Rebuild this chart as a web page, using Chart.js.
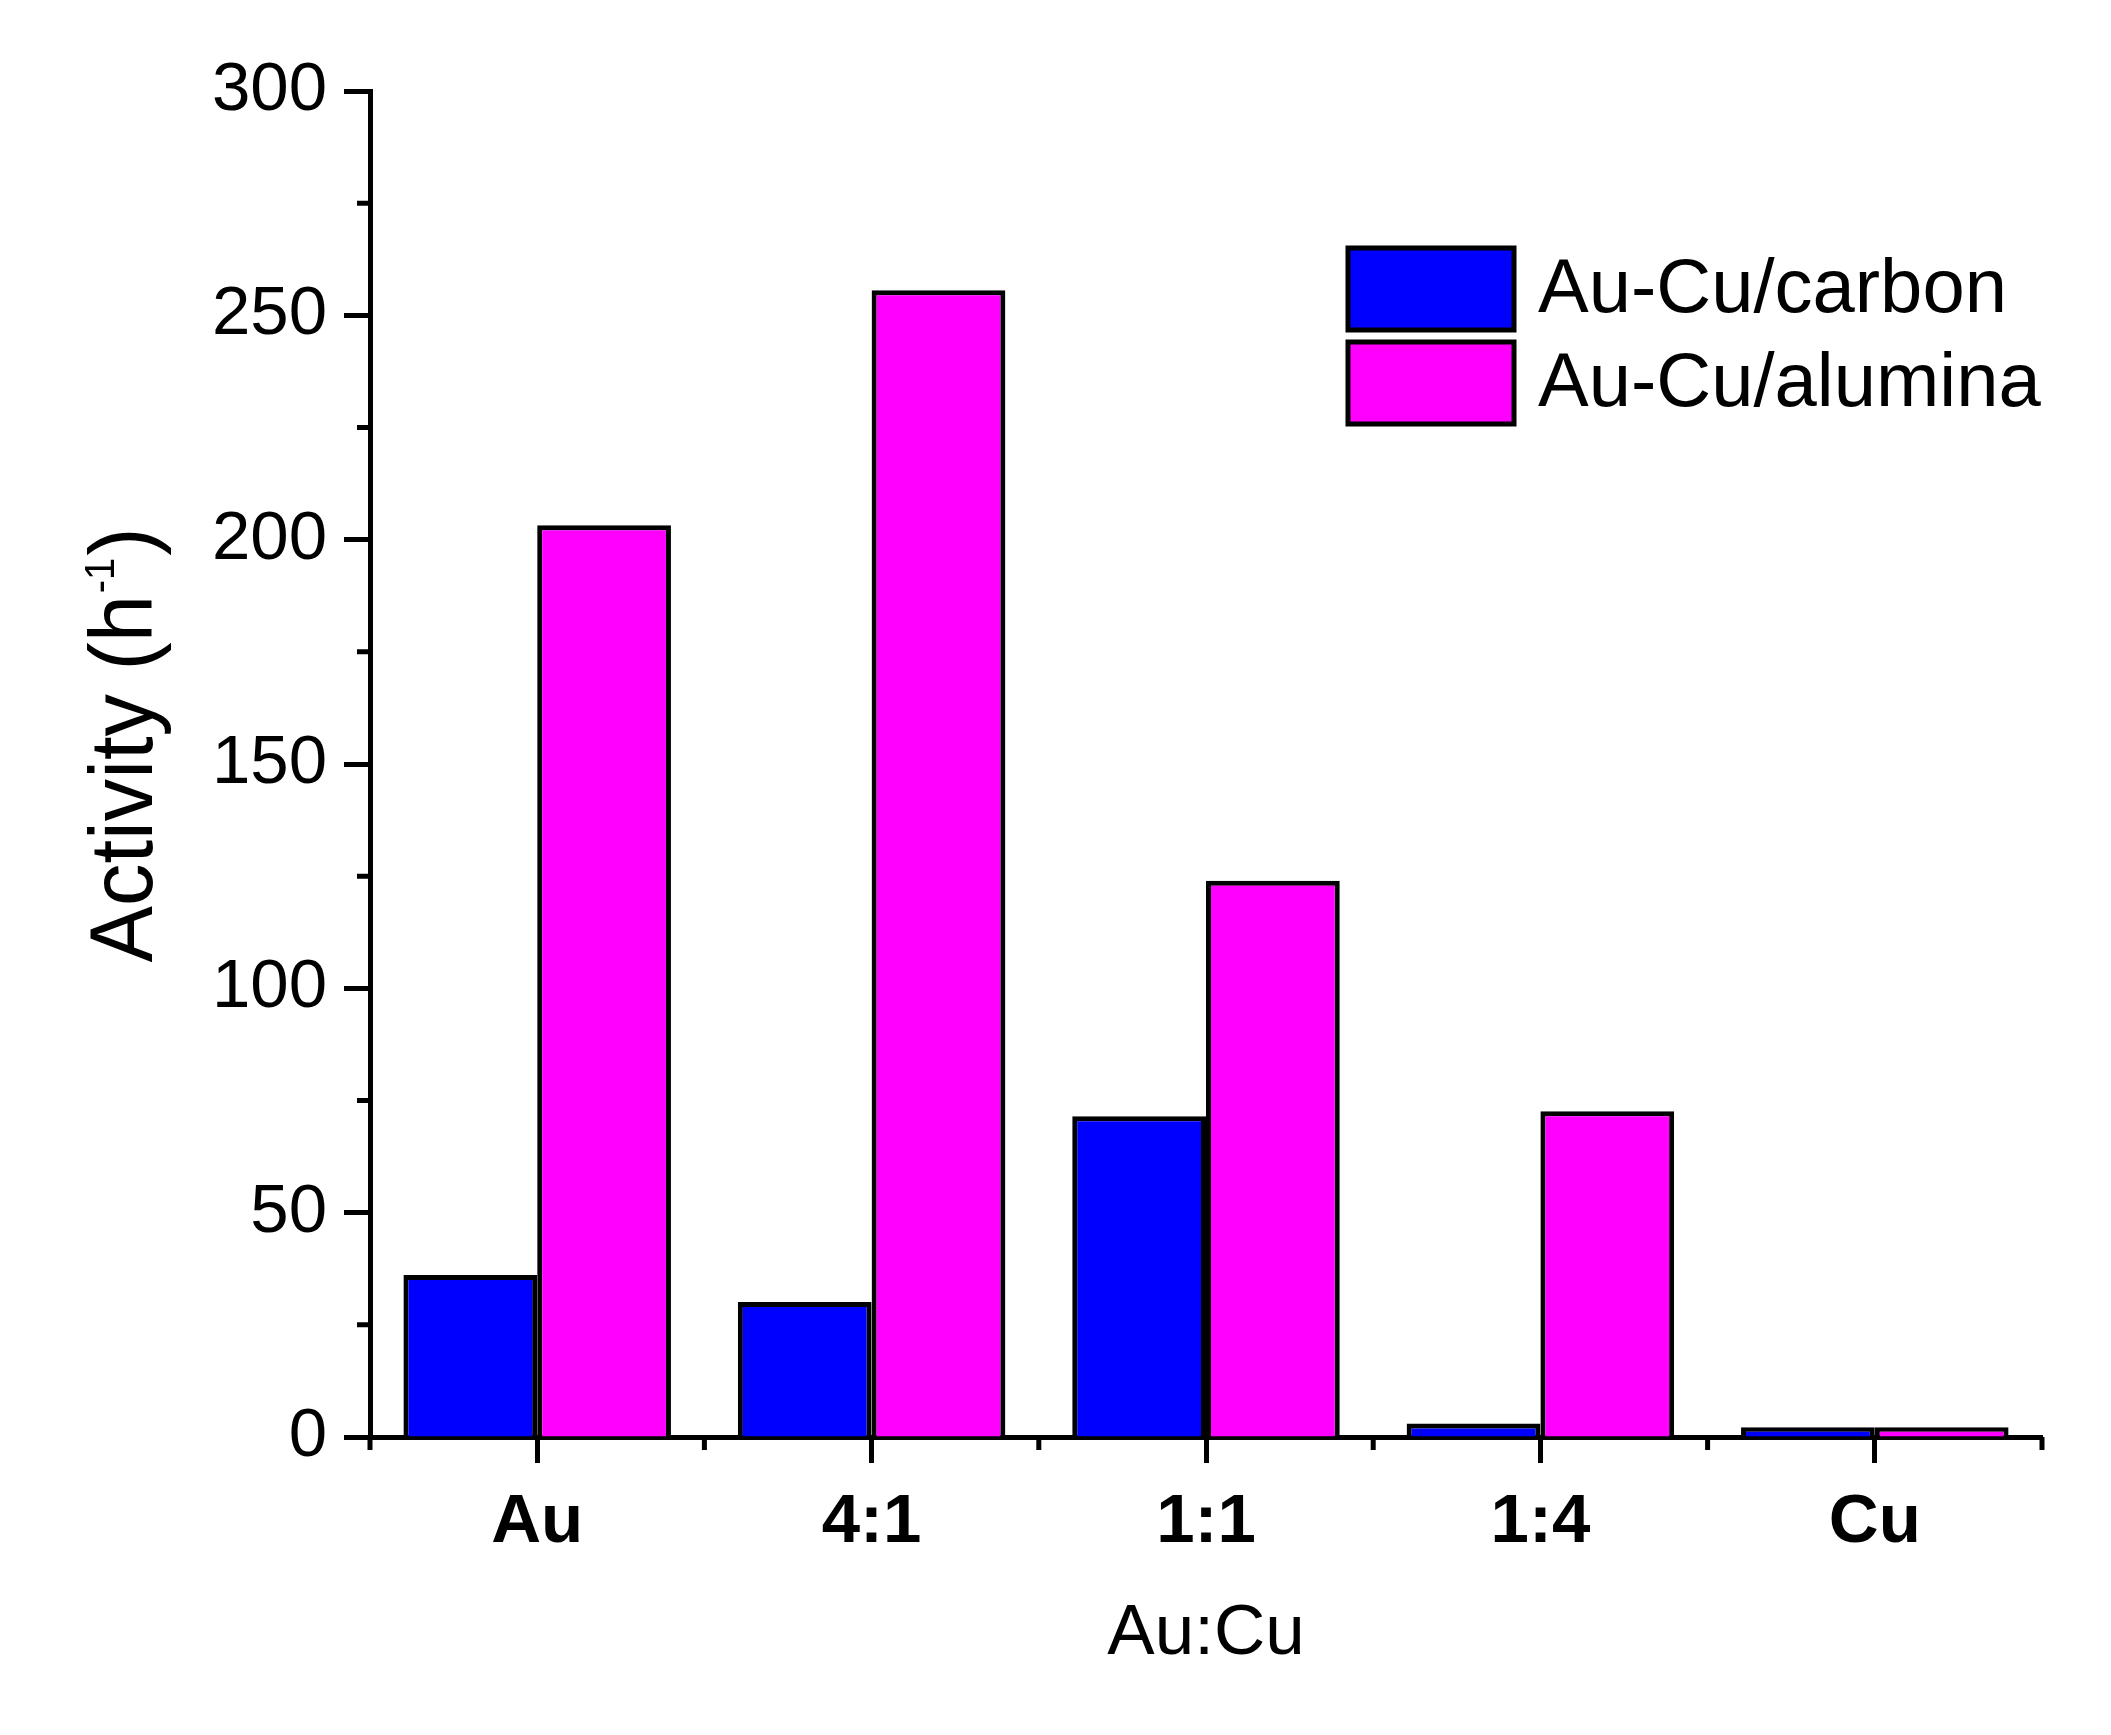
<!DOCTYPE html>
<html>
<head>
<meta charset="utf-8">
<script src="https://cdn.jsdelivr.net/npm/chart.js@4.4.1/dist/chart.umd.min.js"></script>
<style>
  html, body { margin: 0; padding: 0; background: #fff; }
  #wrap { width: 2111px; height: 1735px; }
</style>
</head>
<body>
<div id="wrap"><canvas id="chart" width="2111" height="1735"></canvas></div>
<script>
// values
const ratios = ['Au', '4:1', '1:1', '1:4', 'Cu'];
const carbon = [36.1, 30.1, 71.5, 3.0, 2.2];
const alumina = [203.2, 255.6, 124.0, 72.6, 2.2];
const seriesNames = ['Au-Cu/carbon', 'Au-Cu/alumina'];
const seriesColors = ['#0000ff', '#ff00ff'];
const yMinorTicks = [25, 75, 125, 175, 225, 275];
const yTitle = ['Activity (h', '-1', ')'];

const FONT = "'Liberation Sans', Arial, sans-serif";

// minor ticks, the y title with its superscript, and the legend box
const extras = {
    id: 'extras',
    afterDraw(chart) {
        const ctx = chart.ctx;
        const x = chart.scales.x, y = chart.scales.y;
        const area = chart.chartArea;
        ctx.save();
        ctx.strokeStyle = '#000';
        ctx.lineWidth = 5;
        ctx.beginPath();
        yMinorTicks.forEach(v => {
            const py = y.getPixelForValue(v);
            ctx.moveTo(area.left - 13, py);
            ctx.lineTo(area.left, py);
        });
        const half = (x.getPixelForValue(1) - x.getPixelForValue(0)) / 2;
        for (let i = 0; i <= ratios.length; i++) {
            const px = x.getPixelForValue(i) - half;
            ctx.moveTo(px, area.bottom);
            ctx.lineTo(px, area.bottom + 13);
        }
        ctx.stroke();

        // y axis title, slightly condensed like the original
        const big = '89px ' + FONT, small = '42px ' + FONT;
        ctx.font = big;
        const w0 = ctx.measureText(yTitle[0]).width;
        const w2 = ctx.measureText(yTitle[2]).width;
        ctx.font = small;
        const w1 = ctx.measureText(yTitle[1]).width;
        const total = w0 + w1 + w2 + 4;
        const sx = 435 / total;
        ctx.save();
        ctx.translate(152, 745);
        ctx.rotate(-Math.PI / 2);
        ctx.scale(sx, 1);
        ctx.fillStyle = '#000';
        ctx.textBaseline = 'alphabetic';
        ctx.textAlign = 'left';
        let cx = -total / 2;
        ctx.font = big;
        ctx.fillText(yTitle[0], cx, 0);
        cx += w0 + 2;
        ctx.font = small;
        ctx.fillText(yTitle[1], cx, -38);
        cx += w1 + 2;
        ctx.font = big;
        ctx.fillText(yTitle[2], cx, 0);
        ctx.restore();

        // legend
        const boxX = 1348, boxW = 166, boxH = 82;
        const tops = [248, 342];
        ctx.font = '76px ' + FONT;
        ctx.textBaseline = 'middle';
        chart.data.datasets.forEach((ds, i) => {
            ctx.fillStyle = ds.backgroundColor;
            ctx.fillRect(boxX, tops[i], boxW, boxH);
            ctx.strokeRect(boxX, tops[i], boxW, boxH);
            ctx.fillStyle = '#000';
            ctx.fillText(ds.label, 1538, tops[i] + boxH / 2 + 2);
        });
        ctx.restore();
    }
};

new Chart(document.getElementById('chart'), {
    type: 'bar',
    data: {
        labels: ratios,
        datasets: [
            { label: seriesNames[0], data: carbon, backgroundColor: seriesColors[0] },
            { label: seriesNames[1], data: alumina, backgroundColor: seriesColors[1] }
        ]
    },
    options: {
        responsive: false,
        devicePixelRatio: 1,
        animation: false,
        layout: { padding: { top: 91, right: 69, left: 0, bottom: 0 } },
        datasets: {
            bar: {
                categoryPercentage: 0.8,
                barPercentage: 1.0,
                borderColor: '#000',
                borderWidth: 5,
                borderSkipped: 'bottom'
            }
        },
        plugins: {
            legend: { display: false },
            tooltip: { enabled: false }
        },
        scales: {
            x: {
                offset: true,
                afterFit: s => { s.height = 298; },
                grid: {
                    offset: false,
                    drawOnChartArea: false,
                    drawTicks: true,
                    tickLength: 26,
                    tickWidth: 5,
                    tickColor: '#000'
                },
                border: { display: true, color: '#000', width: 5 },
                ticks: {
                    color: '#000',
                    padding: 19,
                    maxRotation: 0,
                    font: { family: FONT, size: 69, weight: 'bold' }
                },
                title: {
                    display: true,
                    text: 'Au:Cu',
                    color: '#000',
                    padding: { top: 0, bottom: 58 },
                    font: { family: FONT, size: 71 }
                }
            },
            y: {
                min: 0,
                max: 300,
                afterFit: s => { s.width = 370; },
                grid: {
                    drawOnChartArea: false,
                    drawTicks: true,
                    tickLength: 26,
                    tickWidth: 5,
                    tickColor: '#000'
                },
                border: { display: true, color: '#000', width: 5 },
                ticks: {
                    stepSize: 50,
                    color: '#000',
                    padding: 17,
                    font: { family: FONT, size: 69 }
                }
            }
        }
    },
    plugins: [extras]
});
</script>
</body>
</html>
